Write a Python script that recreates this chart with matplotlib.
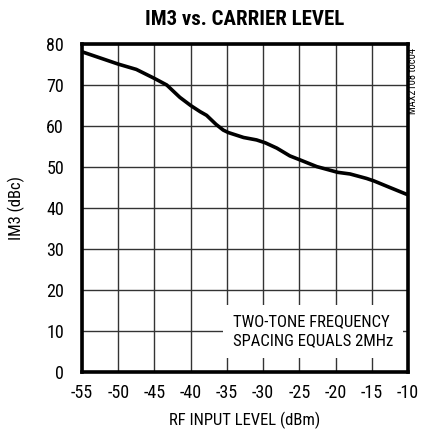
import matplotlib
matplotlib.use("Agg")
import matplotlib.pyplot as plt
from matplotlib import font_manager

rf_input = [-55, -52.5, -50, -47.5, -45, -43.3, -41.5, -40, -38.7, -37.8, -36.5,
            -35.5, -34.8, -32.7, -30.9, -29.7, -28.1, -26.3, -25, -22.6, -19.7,
            -18, -15.7, -14.7, -12.5, -10]
im3 = [78.1, 76.6, 75.1, 73.8, 71.6, 70.0, 67.0, 65.0, 63.5, 62.6, 60.4,
       59.0, 58.4, 57.2, 56.6, 55.9, 54.6, 52.7, 51.8, 50.1, 48.7,
       48.3, 47.2, 46.6, 45.0, 43.2]
xticks = [-55, -50, -45, -40, -35, -30, -25, -20, -15, -10]
yticks = [0, 10, 20, 30, 40, 50, 60, 70, 80]

names = {f.name for f in font_manager.fontManager.ttflist}
def pick(cands):
    for c in cands:
        if c in names:
            return c
    return 'DejaVu Sans'
FONT = pick(["Roboto Condensed", "Archivo Narrow", "Liberation Sans Narrow", "DejaVu Sans"])
TFONT = pick(["Roboto Condensed", "Barlow Condensed", "Asap Condensed", "Archivo Narrow", "DejaVu Sans"])
stretch = 'condensed' if FONT == 'DejaVu Sans' else 'normal'

plt.rcParams['font.family'] = [FONT, 'DejaVu Sans']
plt.rcParams['font.stretch'] = stretch

fig = plt.figure(figsize=(4.22, 4.34), dpi=100)
ax = fig.add_axes([82/422, 62/434, 326/422, 328/434])
ax.plot(rf_input, im3, color='black', lw=2.6, solid_joinstyle='round', zorder=3)
ax.set_xlim(-55, -10)
ax.set_ylim(0, 80)
ax.set_xticks(xticks)
ax.set_yticks(yticks)
ax.set_xticklabels([str(v) for v in xticks], fontsize=13)
ax.set_yticklabels([str(v) for v in yticks], fontsize=13)
ax.tick_params(axis='x', length=0, pad=9)
ax.tick_params(axis='y', length=0, pad=13)
ax.grid(True, color='#333333', lw=1.0)
ax.set_axisbelow(True)
for s in ax.spines.values():
    s.set_linewidth(2.6)
ax.set_xlabel("RF INPUT LEVEL (dBm)", fontsize=12, labelpad=7)
ax.set_ylabel("IM3 (dBc)", fontsize=12, labelpad=15)
ax.set_title("IM3 vs. CARRIER LEVEL", fontsize=15, fontweight='bold',
             family=[TFONT, 'DejaVu Sans'], pad=14)

ax.text(-34.2, 9.9, "TWO-TONE FREQUENCY\nSPACING EQUALS 2MHz", fontsize=12,
        ha='left', va='center', linespacing=1.3, zorder=4,
        bbox=dict(facecolor='white', edgecolor='none', pad=7))
fig.text(413/422, 1 - 81/434, "MAX2108 toc04", rotation=90, fontsize=7.5,
         ha='center', va='center')
fig.savefig("out.png", dpi=100)
